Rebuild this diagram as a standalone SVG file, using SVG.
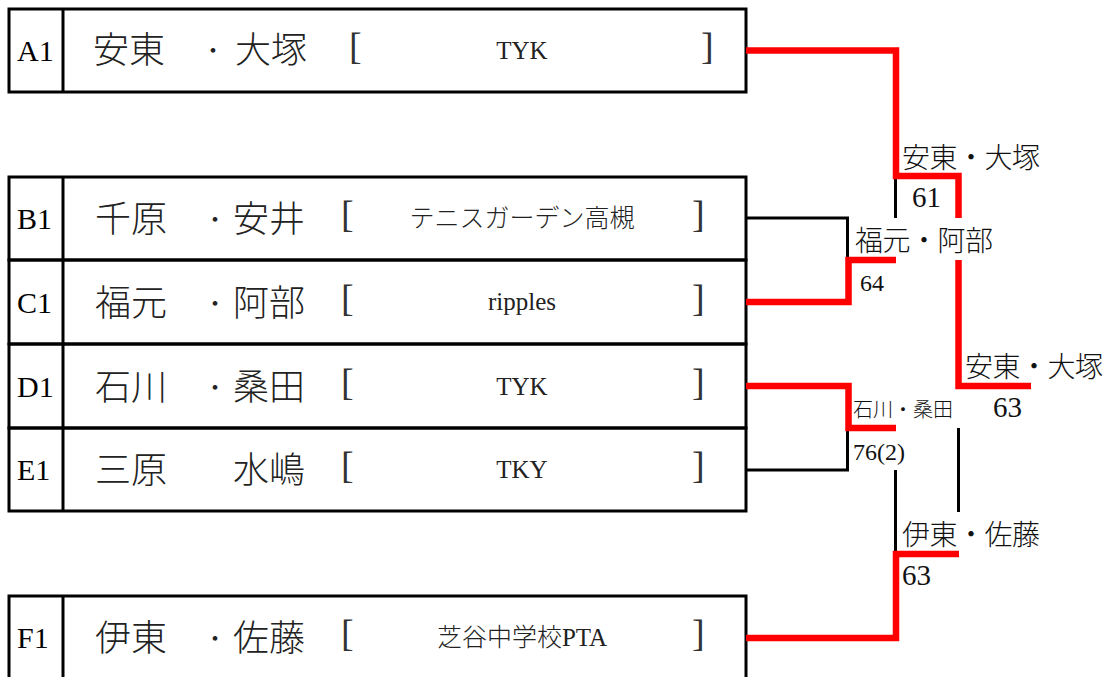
<svg xmlns="http://www.w3.org/2000/svg" width="1111" height="677" viewBox="0 0 1111 677">
<style>
.box{fill:none;stroke:#000;stroke-width:3}
.div{stroke:#000;stroke-width:3}
.lbl{font-family:"Liberation Serif","Noto Sans CJK JP",serif;font-size:30px;fill:#000}
.nm{font-family:"Noto Sans CJK JP",sans-serif;font-size:36px;font-weight:300;fill:#222}
.dot{font-family:"Noto Sans CJK JP",sans-serif;font-size:22px;fill:#222;text-anchor:middle}
.br{font-family:"Liberation Serif",serif;font-size:38px;fill:#333}
.tm{font-family:"Liberation Serif","Noto Sans CJK JP",serif;font-size:25px;font-weight:300;fill:#222;text-anchor:middle}
.win{font-family:"Noto Sans CJK JP",sans-serif;font-size:28px;font-weight:300;fill:#111}
.sc{font-family:"Liberation Serif",serif;font-size:29px;fill:#111}
.bk{fill:none;stroke:#000;stroke-width:3}
.rd{fill:none;stroke:#ff0000;stroke-width:6.5}
</style>
<rect width="1111" height="677" fill="#fff"/>

<g id="A1">
<rect class="box" x="9" y="9" width="737" height="83"/>
<line class="div" x1="63" y1="9" x2="63" y2="92"/>
<text class="lbl" x="17" y="61">A1</text>
<text class="nm" x="93" y="63">安東</text>
<text class="dot" x="213" y="58">・</text>
<text class="nm" x="235" y="63">大塚</text>
<text class="br" x="349" y="59">[</text>
<text class="tm" x="522" y="59">TYK</text>
<text class="br" x="701" y="59">]</text>
</g>

<g id="B1">
<rect class="box" x="9" y="177" width="737" height="83"/>
<line class="div" x1="63" y1="177" x2="63" y2="260"/>
<text class="lbl" x="17" y="229">B1</text>
<text class="nm" x="95" y="232">千原</text>
<text class="dot" x="215" y="227">・</text>
<text class="nm" x="233" y="232">安井</text>
<text class="br" x="341" y="227">[</text>
<text class="tm" x="522" y="227">テニスガーデン高槻</text>
<text class="br" x="692" y="227">]</text>
</g>

<g id="C1">
<rect class="box" x="9" y="260" width="737" height="84"/>
<line class="div" x1="63" y1="260" x2="63" y2="344"/>
<text class="lbl" x="17" y="313">C1</text>
<text class="nm" x="95" y="316">福元</text>
<text class="dot" x="215" y="311">・</text>
<text class="nm" x="233" y="316">阿部</text>
<text class="br" x="341" y="311">[</text>
<text class="tm" x="522" y="310">ripples</text>
<text class="br" x="692" y="311">]</text>
</g>

<g id="D1">
<rect class="box" x="9" y="344" width="737" height="84"/>
<line class="div" x1="63" y1="344" x2="63" y2="428"/>
<text class="lbl" x="17" y="397">D1</text>
<text class="nm" x="95" y="400">石川</text>
<text class="dot" x="215" y="395">・</text>
<text class="nm" x="233" y="400">桑田</text>
<text class="br" x="341" y="395">[</text>
<text class="tm" x="522" y="395">TYK</text>
<text class="br" x="692" y="395">]</text>
</g>

<g id="E1">
<rect class="box" x="9" y="428" width="737" height="83"/>
<line class="div" x1="63" y1="428" x2="63" y2="511"/>
<text class="lbl" x="17" y="480">E1</text>
<text class="nm" x="95" y="483">三原</text>
<text class="nm" x="233" y="483">水嶋</text>
<text class="br" x="341" y="478">[</text>
<text class="tm" x="522" y="478">TKY</text>
<text class="br" x="692" y="478">]</text>
</g>

<g id="F1">
<rect class="box" x="9" y="596" width="737" height="90"/>
<line class="div" x1="63" y1="596" x2="63" y2="677"/>
<text class="lbl" x="17" y="648">F1</text>
<text class="nm" x="95" y="651">伊東</text>
<text class="dot" x="215" y="646">・</text>
<text class="nm" x="233" y="651">佐藤</text>
<text class="br" x="341" y="646">[</text>
<text class="tm" x="522" y="646">芝谷中学校PTA</text>
<text class="br" x="692" y="646">]</text>
</g>

<g id="connectors">
<path class="bk" d="M746,218 H847.5 V258"/>
<path class="bk" d="M895.5,179 V218"/>
<path class="bk" d="M746,470 H847.5 V430"/>
<path class="bk" d="M895.5,470 V552"/>
<path class="bk" d="M958.5,428 V512"/>
<path class="rd" d="M746,50.5 H896 V176 H958.5 V218"/>
<path class="rd" d="M746,302 H848.5 V260 H896"/>
<path class="rd" d="M958.5,260 V386 H1031"/>
<path class="rd" d="M746,386 H848.5 V428 H896"/>
<path class="rd" d="M746,638 H896 V554 H959"/>
</g>

<g id="labels">
<text class="win" x="902" y="168" letter-spacing="-0.5">安東・大塚</text>
<text class="sc" x="912" y="207">61</text>
<text class="win" x="855" y="251" letter-spacing="-0.5">福元・阿部</text>
<text class="sc" x="860" y="291" style="font-size:24px">64</text>
<text class="win" x="965" y="377" letter-spacing="-0.5">安東・大塚</text>
<text class="sc" x="993" y="417">63</text>
<text class="win" x="853" y="417" style="font-size:20px">石川・桑田</text>
<text class="sc" x="853" y="460" style="font-size:24px">76(2)</text>
<text class="win" x="902" y="545" letter-spacing="-0.5">伊東・佐藤</text>
<text class="sc" x="902" y="585">63</text>
</g>
</svg>
